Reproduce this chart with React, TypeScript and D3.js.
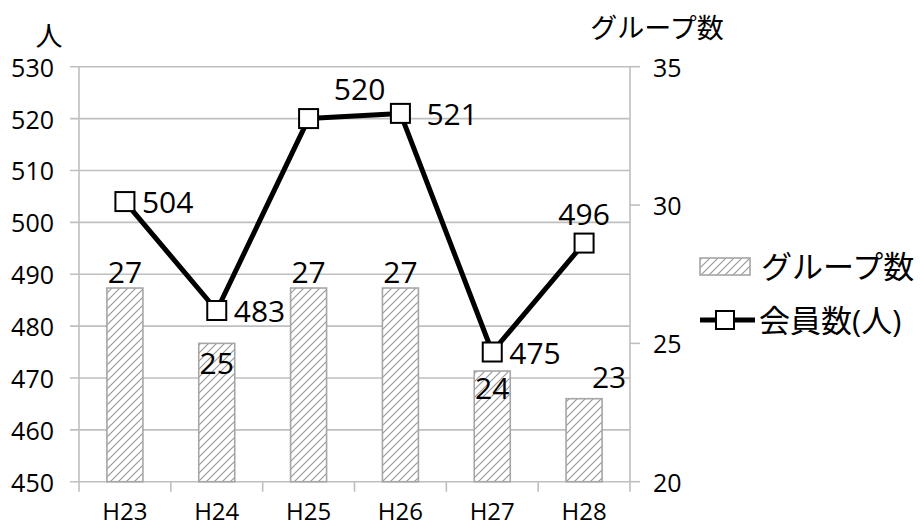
import { useMemo } from "react";
import * as d3 from "d3";

const years = ["H23", "H24", "H25", "H26", "H27", "H28"];
const groupCounts = [27, 25, 27, 27, 24, 23];
const members = [504, 483, 520, 521, 475, 496];
const leftTicks = [450, 460, 470, 480, 490, 500, 510, 520, 530];
const rightTicks = [20, 25, 30, 35];

// label offsets (dx, dy) relative to the mark, as placed in the original
const memberLabelPos: [number, number, string][] = [
  [17, 0, "start"],
  [17, 0, "start"],
  [51, -30, "middle"],
  [26, 0, "start"],
  [17, 0, "start"],
  [0, -30, "middle"],
];
const groupLabelPos: [number, number][] = [
  [0, -17],
  [0, 19],
  [0, -17],
  [0, -17],
  [0, 16],
  [25, -22],
];

const FONT = "'Open Sans', 'Noto Sans CJK JP', sans-serif";
const GRID = "#bfbfbf";
const BAR_STROKE = "#a6a6a6";

const W = 920;
const H = 528;
const LEFT = 79;
const RIGHT = 630;
const TOP = 66.7;
const BOTTOM = 481.7;
const BAR_W = 36;

const App = () => {
  const x = useMemo(
    () => d3.scaleBand().domain(years).range([LEFT, RIGHT]).padding(0),
    []
  );
  const yL = useMemo(
    () => d3.scaleLinear().domain([450, 530]).range([BOTTOM, TOP]),
    []
  );
  const yR = useMemo(
    () => d3.scaleLinear().domain([20, 35]).range([BOTTOM, TOP]),
    []
  );

  const cx = (d: string) => (x(d) ?? 0) + x.bandwidth() / 2;

  const line = d3
    .line<number>()
    .x((_, i) => cx(years[i]))
    .y((d) => yL(d));

  const grid = leftTicks.map((t) => (
    <g key={t}>
      <line x1={70} x2={RIGHT} y1={yL(t)} y2={yL(t)} stroke={GRID} strokeWidth={1.6} />
      <text
        x={54}
        y={yL(t)}
        textAnchor="end"
        dominantBaseline="central"
        fontSize={25}
      >
        {t}
      </text>
    </g>
  ));

  const rightAxis = rightTicks.map((t) => (
    <g key={t}>
      <line x1={RIGHT} x2={640} y1={yR(t)} y2={yR(t)} stroke={GRID} strokeWidth={1.6} />
      <text x={653} y={yR(t)} dominantBaseline="central" fontSize={25}>
        {t}
      </text>
    </g>
  ));

  const xTicks = d3.range(years.length + 1).map((i) => {
    const xx = LEFT + i * x.bandwidth();
    return (
      <line key={i} x1={xx} x2={xx} y1={BOTTOM} y2={BOTTOM + 10} stroke={GRID} strokeWidth={1.6} />
    );
  });

  const bars = groupCounts.map((v, i) => {
    const c = cx(years[i]);
    const top = yR(v);
    return (
      <g key={i}>
        <rect
          x={c - BAR_W / 2}
          y={top}
          width={BAR_W}
          height={BOTTOM - top}
          fill="url(#hatch)"
          stroke={BAR_STROKE}
          strokeWidth={1.6}
        />
        <text
          x={c + groupLabelPos[i][0]}
          y={top + groupLabelPos[i][1]}
          textAnchor="middle"
          dominantBaseline="central"
          fontSize={30}
        >
          {v}
        </text>
      </g>
    );
  });

  const markers = members.map((v, i) => {
    const c = cx(years[i]);
    const y = yL(v);
    const [dx, dy, anchor] = memberLabelPos[i];
    return (
      <g key={i}>
        <rect x={c - 9.5} y={y - 9.5} width={19} height={19} fill="#fff" stroke="#000" strokeWidth={2} />
        <text
          x={c + dx}
          y={y + dy}
          textAnchor={anchor as "start" | "middle"}
          dominantBaseline="central"
          fontSize={30}
        >
          {v}
        </text>
      </g>
    );
  });

  return (
    <svg
      width={W}
      height={H}
      style={{ position: "absolute", left: 0, top: 0, fontFamily: FONT }}
    >
      <defs>
        <pattern id="hatch" patternUnits="userSpaceOnUse" width={8} height={8}>
          <rect width={8} height={8} fill="#fff" />
          <path d="M-2,2 l4,-4 M0,8 l8,-8 M6,10 l4,-4" stroke="#9a9a9a" strokeWidth={1.2} />
        </pattern>
      </defs>
      <rect width={W} height={H} fill="#fff" />
      {grid}
      {xTicks}
      <line x1={LEFT} x2={LEFT} y1={TOP} y2={BOTTOM} stroke={GRID} strokeWidth={1.6} />
      <line x1={RIGHT} x2={RIGHT} y1={TOP} y2={BOTTOM} stroke={GRID} strokeWidth={1.6} />
      {rightAxis}
      {bars}
      <path d={line(members) ?? ""} fill="none" stroke="#000" strokeWidth={5} strokeLinejoin="round" />
      {markers}
      {years.map((d) => (
        <text key={d} x={cx(d)} y={520} textAnchor="middle" fontSize={24}>
          {d}
        </text>
      ))}
      <text x={49} y={35} textAnchor="middle" dominantBaseline="central" fontSize={27}>
        人
      </text>
      <text x={657} y={27} textAnchor="middle" dominantBaseline="central" fontSize={27}>
        グループ数
      </text>
      <g>
        <rect x={700} y={258} width={50} height={17} fill="url(#hatch)" stroke={BAR_STROKE} strokeWidth={1.6} />
        <text x={761} y={266} dominantBaseline="central" fontSize={31}>
          グループ数
        </text>
        <line x1={700} x2={755} y1={320} y2={320} stroke="#000" strokeWidth={5} />
        <rect x={716} y={311} width={18} height={18} fill="#fff" stroke="#000" strokeWidth={2} />
        <text x={759} y={320} dominantBaseline="central" fontSize={31}>
          会員数(人)
        </text>
      </g>
    </svg>
  );
};

export default App;
